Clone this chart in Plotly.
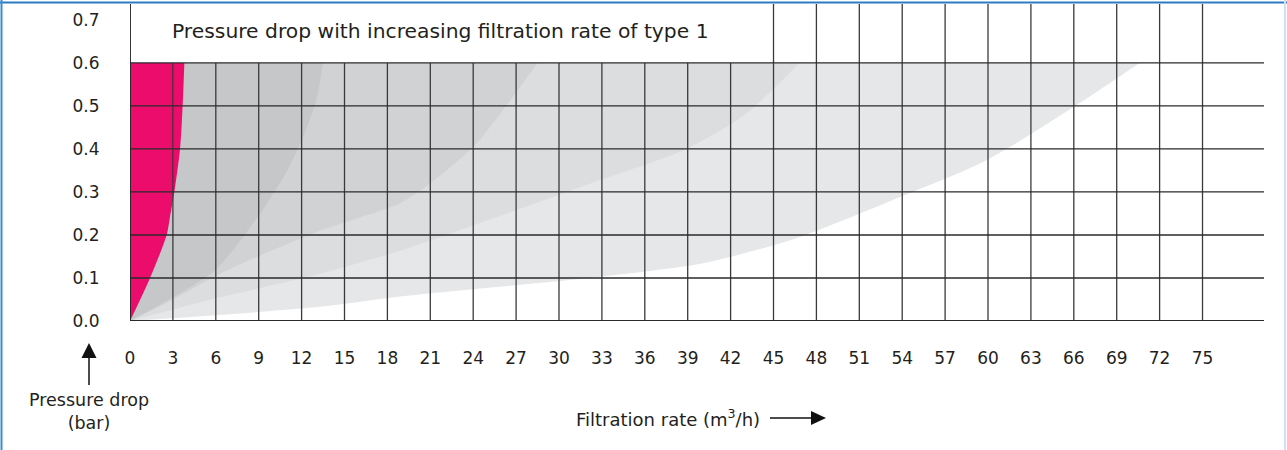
import plotly.graph_objects as go

# ---------------- data ----------------
x_ticks = list(range(0, 76, 3))                      # filtration rate ticks (m3/h)
y_ticks = [0.0, 0.1, 0.2, 0.3, 0.4, 0.5, 0.6, 0.7]    # pressure drop ticks (bar)
y_grid = [0.0, 0.1, 0.2, 0.3, 0.4, 0.5, 0.6]
title_box_end = 45                                    # title box spans x = 0 .. 45

# curve boundaries (filtration rate vs pressure drop), innermost first
pink_x = [0, 1.4, 2.56, 2.8, 3.1, 3.5, 3.68, 3.8]
pink_y = [0, 0.1, 0.2, 0.243, 0.3, 0.4, 0.5, 0.6]

g1_x = [0, 3, 6, 9, 11, 12, 13, 13.5]
g1_y = [0, 0.055, 0.12, 0.245, 0.35, 0.42, 0.51, 0.6]

g2_x = [0, 3, 6.3, 10, 13.3, 16, 18.9, 21, 24, 26.3, 28.5]
g2_y = [0, 0.05, 0.11, 0.165, 0.21, 0.24, 0.274, 0.32, 0.405, 0.5, 0.6]

g3_x = [0, 6.3, 13.3, 19.5, 27, 32.9, 38.9, 43, 46.8]
g3_y = [0, 0.055, 0.11, 0.17, 0.258, 0.328, 0.40, 0.48, 0.6]

g4_x = [0, 13.3, 18.9, 32.9, 39.9, 43.8, 46.9, 53.9, 59.9, 66, 70.6]
g4_y = [0, 0.033, 0.057, 0.103, 0.133, 0.165, 0.196, 0.289, 0.374, 0.498, 0.6]

layers = [
    (g4_x, g4_y, "#e6e7e8"),
    (g3_x, g3_y, "#dcdddf"),
    (g2_x, g2_y, "#d1d2d4"),
    (g1_x, g1_y, "#c6c7c9"),
    (pink_x, pink_y, "#ec0c6c"),
]

X_MAX = 79.3
Y_MAX = 0.737
FONT = "DejaVu Sans"
TXT = "#231f20"

# ---------------- figure ----------------
W, H = 1287, 450
ML, MR, MT, MB = 130, 23, 4, 129
PW, PH = W - ML - MR, H - MT - MB


def px(x):
    return (x - ML) / PW


def py(y):
    return 1 - (y - MT) / PH


fig = go.Figure()
for xs, ys, col in layers:
    fig.add_trace(go.Scatter(
        x=xs, y=ys, mode="lines", fill="tozerox", fillcolor=col,
        line=dict(width=0, color=col, shape="spline", smoothing=0.8),
        hoverinfo="skip", showlegend=False))

shapes = []
# vertical grid lines
for t in x_ticks:
    inside_box = 0 < t < title_box_end
    shapes.append(dict(type="line", xref="x", yref="y", x0=t, x1=t, y0=0,
                       y1=0.6 if inside_box else Y_MAX,
                       line=dict(color="#3a3a3a", width=1.3), layer="above"))
# horizontal grid lines
for v in y_grid:
    shapes.append(dict(type="line", xref="x", yref="y", x0=0, x1=X_MAX, y0=v, y1=v,
                       line=dict(color="#2a2a2a", width=2 if v == 0 else 1.3),
                       layer="above"))
# y axis line
shapes.append(dict(type="line", xref="x", yref="y", x0=0, x1=0, y0=0, y1=Y_MAX,
                   line=dict(color="#222", width=1.6), layer="above"))

# arrows (decoration, pixel positions)
def tri(points):
    p = "M " + " L ".join(f"{px(a)},{py(b)}" for a, b in points) + " Z"
    return dict(type="path", xref="paper", yref="paper", path=p,
                fillcolor="#111", line=dict(width=0), layer="above")

shapes.append(dict(type="line", xref="paper", yref="paper", x0=px(89), x1=px(89),
                   y0=py(355), y1=py(385), line=dict(color="#111", width=1.5)))
shapes.append(tri([(89, 343), (81.5, 358), (96.5, 358)]))
shapes.append(dict(type="line", xref="paper", yref="paper", x0=px(770), x1=px(814),
                   y0=py(418), y1=py(418), line=dict(color="#111", width=1.5)))
shapes.append(tri([(826, 418), (811, 411), (811, 425)]))

# blue frame
shapes.append(dict(type="line", xref="paper", yref="paper", x0=px(0), x1=px(W),
                   y0=py(2.5), y1=py(2.5), line=dict(color="#2b7cc4", width=2)))
shapes.append(dict(type="line", xref="paper", yref="paper", x0=px(1.5), x1=px(1.5),
                   y0=py(0), y1=py(H), line=dict(color="#3a8bd0", width=2)))
shapes.append(dict(type="line", xref="paper", yref="paper", x0=px(1285), x1=px(1285),
                   y0=py(0), y1=py(H), line=dict(color="#cfe2f3", width=2)))

annotations = [
    dict(text="Pressure drop with increasing filtration rate of type 1",
         xref="paper", yref="paper", x=px(170), y=py(31), xanchor="left",
         yanchor="middle", showarrow=False, font=dict(family=FONT, size=20.3, color=TXT)),
    dict(text="Pressure drop<br>(bar)", xref="paper", yref="paper", x=px(89),
         y=py(411), xanchor="center", yanchor="middle", showarrow=False,
         font=dict(family=FONT, size=17.5, color=TXT)),
    dict(text="Filtration rate (m<sup>3</sup>/h)", xref="paper", yref="paper",
         x=px(668), y=py(418), xanchor="center", yanchor="middle", showarrow=False,
         font=dict(family=FONT, size=18, color=TXT)),
]

fig.update_layout(
    width=W, height=H, margin=dict(l=ML, r=MR, t=MT, b=MB, autoexpand=False),
    paper_bgcolor="white", plot_bgcolor="white",
    shapes=shapes, annotations=annotations, showlegend=False,
    xaxis=dict(range=[0, X_MAX], tickvals=x_ticks, ticktext=[str(t) for t in x_ticks],
               showgrid=False, zeroline=False, showline=False, ticks="outside",
               ticklen=22, tickcolor="rgba(0,0,0,0)", automargin=False,
               tickfont=dict(family=FONT, size=17, color=TXT), fixedrange=True),
    yaxis=dict(range=[0, Y_MAX], tickvals=y_ticks, ticktext=[f"{v:.1f}" for v in y_ticks],
               showgrid=False, zeroline=False, showline=False, ticks="outside",
               ticklen=26, tickcolor="rgba(0,0,0,0)", automargin=False,
               tickfont=dict(family=FONT, size=17, color=TXT), fixedrange=True),
)

fig.write_html("out.html", config={"displayModeBar": False},
               post_script="document.body.style.margin='0';document.body.style.overflow='hidden';")
